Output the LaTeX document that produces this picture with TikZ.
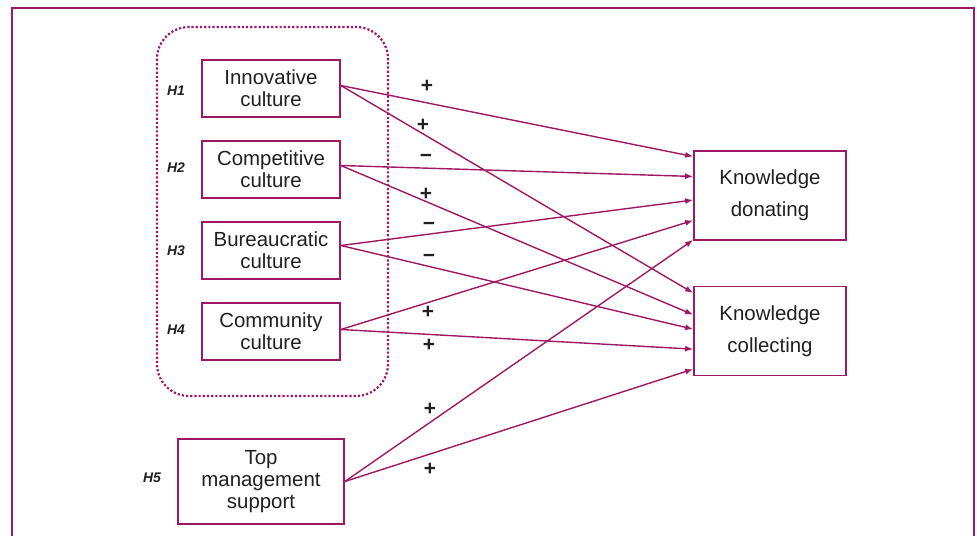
\documentclass[tikz,border=0pt]{standalone}
\usepackage{fontspec}
\setmainfont{Liberation Sans}
\usetikzlibrary{arrows.meta,calc}
\definecolor{plum}{RGB}{158,24,100}
\definecolor{ink}{RGB}{35,31,32}
\tikzset{
  frameline/.style={draw=plum,line width=2.6bp},
  groupline/.style={draw=plum,line width=2.2bp,dotted,rounded corners=32bp},
  varbox/.style={draw=plum,line width=1.7bp,fill=white,align=center,text=ink,
    inner sep=0pt,font=\fontsize{20.5}{22}\selectfont},
  culture/.style={varbox,minimum width=138bp,minimum height=57bp},
  outcome/.style={varbox,minimum width=152bp,minimum height=89bp,
    font=\fontsize{20.5}{32}\selectfont},
  hyp/.style={text=ink,font=\fontsize{14}{16}\selectfont\bfseries\itshape,inner sep=0pt},
  sign/.style={text=ink,font=\fontsize{21}{21}\selectfont\bfseries,inner sep=0pt},
  link/.style={draw=plum,line width=1.4bp,-{Latex[length=8bp,width=6bp]}},
}
\begin{document}
\begin{tikzpicture}[x=1bp,y=-1bp]
\useasboundingbox (0,0) rectangle (977,536);

% outer frame, open at the bottom
\draw[frameline] (12,540) -- (12,8) -- (974,8) -- (974,540);

% dotted group around the four culture types
\draw[groupline] (157,27) rectangle (388,396);

% independent variables
\node[culture] (inn)  at (271,88.5)  {Innovative\\culture};
\node[culture] (comp) at (271,169.5) {Competitive\\culture};
\node[culture] (bur)  at (271,250.5) {Bureaucratic\\culture};
\node[culture] (comm) at (271,331.5) {Community\\culture};
\node[varbox,minimum width=166bp,minimum height=85bp] (top) at (261,481.5)
  {Top\\management\\support};

% dependent variables
\node[outcome] (kd) at (770,195.5) {Knowledge\\donating};
\node[outcome] (kc) at (770,331)   {Knowledge\\collecting};

% hypothesis labels
\node[hyp] (h1) at (176,91)  {H1};
\node[hyp] (h2) at (176,168) {H2};
\node[hyp] (h3) at (176,251) {H3};
\node[hyp] (h4) at (176,330) {H4};
\node[hyp] (h5) at (152,478) {H5};

% entry points on the left sides of the outcome boxes
\coordinate (kd1) at ($(kd.north west)!0.07!(kd.south west)$);
\coordinate (kd2) at ($(kd.north west)!0.29!(kd.south west)$);
\coordinate (kd3) at ($(kd.north west)!0.55!(kd.south west)$);
\coordinate (kd4) at ($(kd.north west)!0.775!(kd.south west)$);
\coordinate (kd5) at ($(kd.north west)!0.99!(kd.south west)$);
\coordinate (kc1) at ($(kc.north west)!0.08!(kc.south west)$);
\coordinate (kc2) at ($(kc.north west)!0.32!(kc.south west)$);
\coordinate (kc3) at ($(kc.north west)!0.48!(kc.south west)$);
\coordinate (kc4) at ($(kc.north west)!0.70!(kc.south west)$);
\coordinate (kc5) at ($(kc.north west)!0.92!(kc.south west)$);

% hypothesised paths
\draw[link] ([yshift=3bp]inn.east) -- (kd1);
\draw[link] ([yshift=3bp]inn.east) -- (kc1);
\draw[link] ([yshift=4bp]comp.east) -- (kd2);
\draw[link] ([yshift=4bp]comp.east) -- (kc2);
\draw[link] ([yshift=5bp]bur.east) -- (kd3);
\draw[link] ([yshift=5bp]bur.east) -- (kc3);
\draw[link] ([yshift=2bp]comm.east) -- (kd4);
\draw[link] ([yshift=2bp]comm.east) -- (kc4);
\draw[link] (top.east) -- (kd5);
\draw[link] (top.east) -- (kc5);

% signs of the expected effects
\node[sign] (s1)  at (427,86)  {+};
\node[sign] (s2)  at (423,125) {+};
\node[sign] (s3)  at (426,158) {−};
\node[sign] (s4)  at (426,194) {+};
\node[sign] (s5)  at (429,226) {−};
\node[sign] (s6)  at (429,258) {−};
\node[sign] (s7)  at (428,312) {+};
\node[sign] (s8)  at (429,345) {+};
\node[sign] (s9)  at (430,409) {+};
\node[sign] (s10) at (430,469) {+};
\end{tikzpicture}
\end{document}
